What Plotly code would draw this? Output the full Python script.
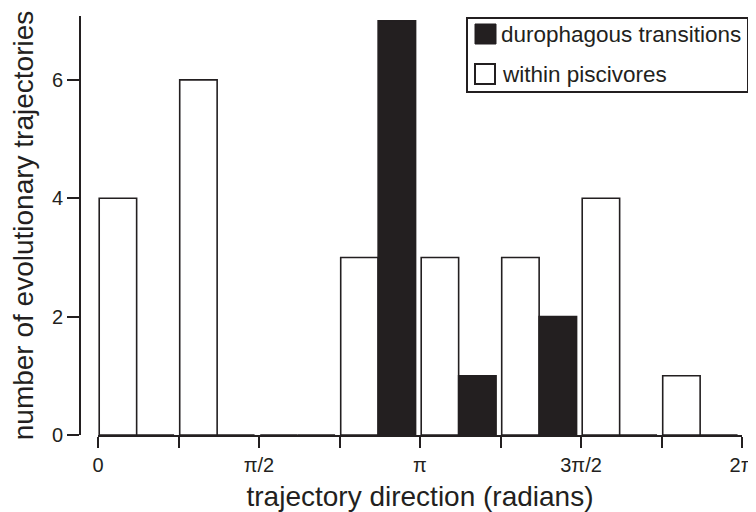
import math
import plotly.graph_objects as go

# ---- data ----
bin_edges_quarter_pi = [0, 1, 2, 3, 4, 5, 6, 7]          # bin starts in units of pi/4
within_piscivores = [4, 6, 0, 3, 3, 3, 4, 1]
durophagous_transitions = [0, 0, 0, 7, 1, 2, 0, 0]
tick_vals_quarter_pi = [0, 1, 2, 3, 4, 5, 6, 7, 8]
tick_labels = ["0", "", "π/2", "", "π", "", "3π/2", "", "2π"]
y_ticks = [0, 2, 4, 6]

DARK = "#231f20"
FONT = "Liberation Sans, Arial, sans-serif"

# page body has an 8px margin, so the figure is drawn 8px smaller / offset
OFF = 8
W, H = 756 - OFF, 512 - OFF
ML, MR, MT, MB = 80 - OFF, 14, 16 - OFF, 77

binw = math.pi / 4
starts = [b * binw for b in bin_edges_quarter_pi]
pad = 0.015 * binw
bw = 0.465 * binw

fig = go.Figure()
fig.add_trace(go.Bar(
    x=starts, y=within_piscivores, offset=pad, width=bw,
    marker=dict(color="white", line=dict(color=DARK, width=1.6)),
    name="within piscivores", showlegend=False,
))
fig.add_trace(go.Bar(
    x=starts, y=durophagous_transitions, offset=pad + bw, width=bw,
    marker=dict(color=DARK, line=dict(color=DARK, width=1.6)),
    name="durophagous transitions", showlegend=False,
))

pw = W - ML - MR
ph = H - MT - MB


def px(x):
    # screen pixel -> paper fraction
    return (x - OFF - ML) / pw


def py(y):
    return 1 - (y - OFF - MT) / ph


shapes = [
    dict(type="rect", xref="paper", yref="paper",
         x0=px(467), x1=px(748), y0=py(92), y1=py(18),
         line=dict(color=DARK, width=2), fillcolor="white", layer="above"),
    dict(type="rect", xref="paper", yref="paper",
         x0=px(475), x1=px(496), y0=py(44), y1=py(24),
         line=dict(color=DARK, width=1), fillcolor=DARK, layer="above"),
    dict(type="rect", xref="paper", yref="paper",
         x0=px(475), x1=px(495), y0=py(84), y1=py(64),
         line=dict(color=DARK, width=2), fillcolor="white", layer="above"),
]
annotations = [
    dict(text="durophagous transitions", xref="paper", yref="paper",
         x=px(499), y=py(35), xanchor="left", yanchor="middle", showarrow=False,
         font=dict(family=FONT, size=22.5, color=DARK)),
    dict(text="within piscivores", xref="paper", yref="paper",
         x=px(500), y=py(74), xanchor="left", yanchor="middle", showarrow=False,
         font=dict(family=FONT, size=22.5, color=DARK)),
]

fig.update_layout(
    width=W, height=H,
    margin=dict(l=ML, r=MR, t=MT, b=MB, autoexpand=False),
    paper_bgcolor="white", plot_bgcolor="white",
    barmode="overlay",
    showlegend=False,
    font=dict(family=FONT, color=DARK),
    shapes=shapes, annotations=annotations,
    xaxis=dict(
        domain=[(98 - OFF - ML) / pw, 1],
        range=[0, 2 * math.pi],
        tickvals=[t * binw for t in tick_vals_quarter_pi],
        ticktext=tick_labels,
        ticks="outside", ticklen=11, tickwidth=2, tickcolor=DARK,
        showline=True, linewidth=2, linecolor=DARK,
        showgrid=False, zeroline=False,
        tickfont=dict(family=FONT, size=20, color=DARK),
        title=dict(text="trajectory direction (radians)", standoff=11,
                   font=dict(family=FONT, size=28, color=DARK)),
        automargin=False,
    ),
    yaxis=dict(
        anchor="free", position=0,
        range=[0, 7.08],
        tickvals=y_ticks,
        ticks="outside", ticklen=12, tickwidth=2, tickcolor=DARK,
        showline=True, linewidth=2, linecolor=DARK,
        showgrid=False, zeroline=False,
        tickfont=dict(family=FONT, size=20, color=DARK),
        title=dict(text="number of evolutionary trajectories", standoff=12,
                   font=dict(family=FONT, size=28, color=DARK)),
        automargin=False,
    ),
)

fig.write_html("out.html")
